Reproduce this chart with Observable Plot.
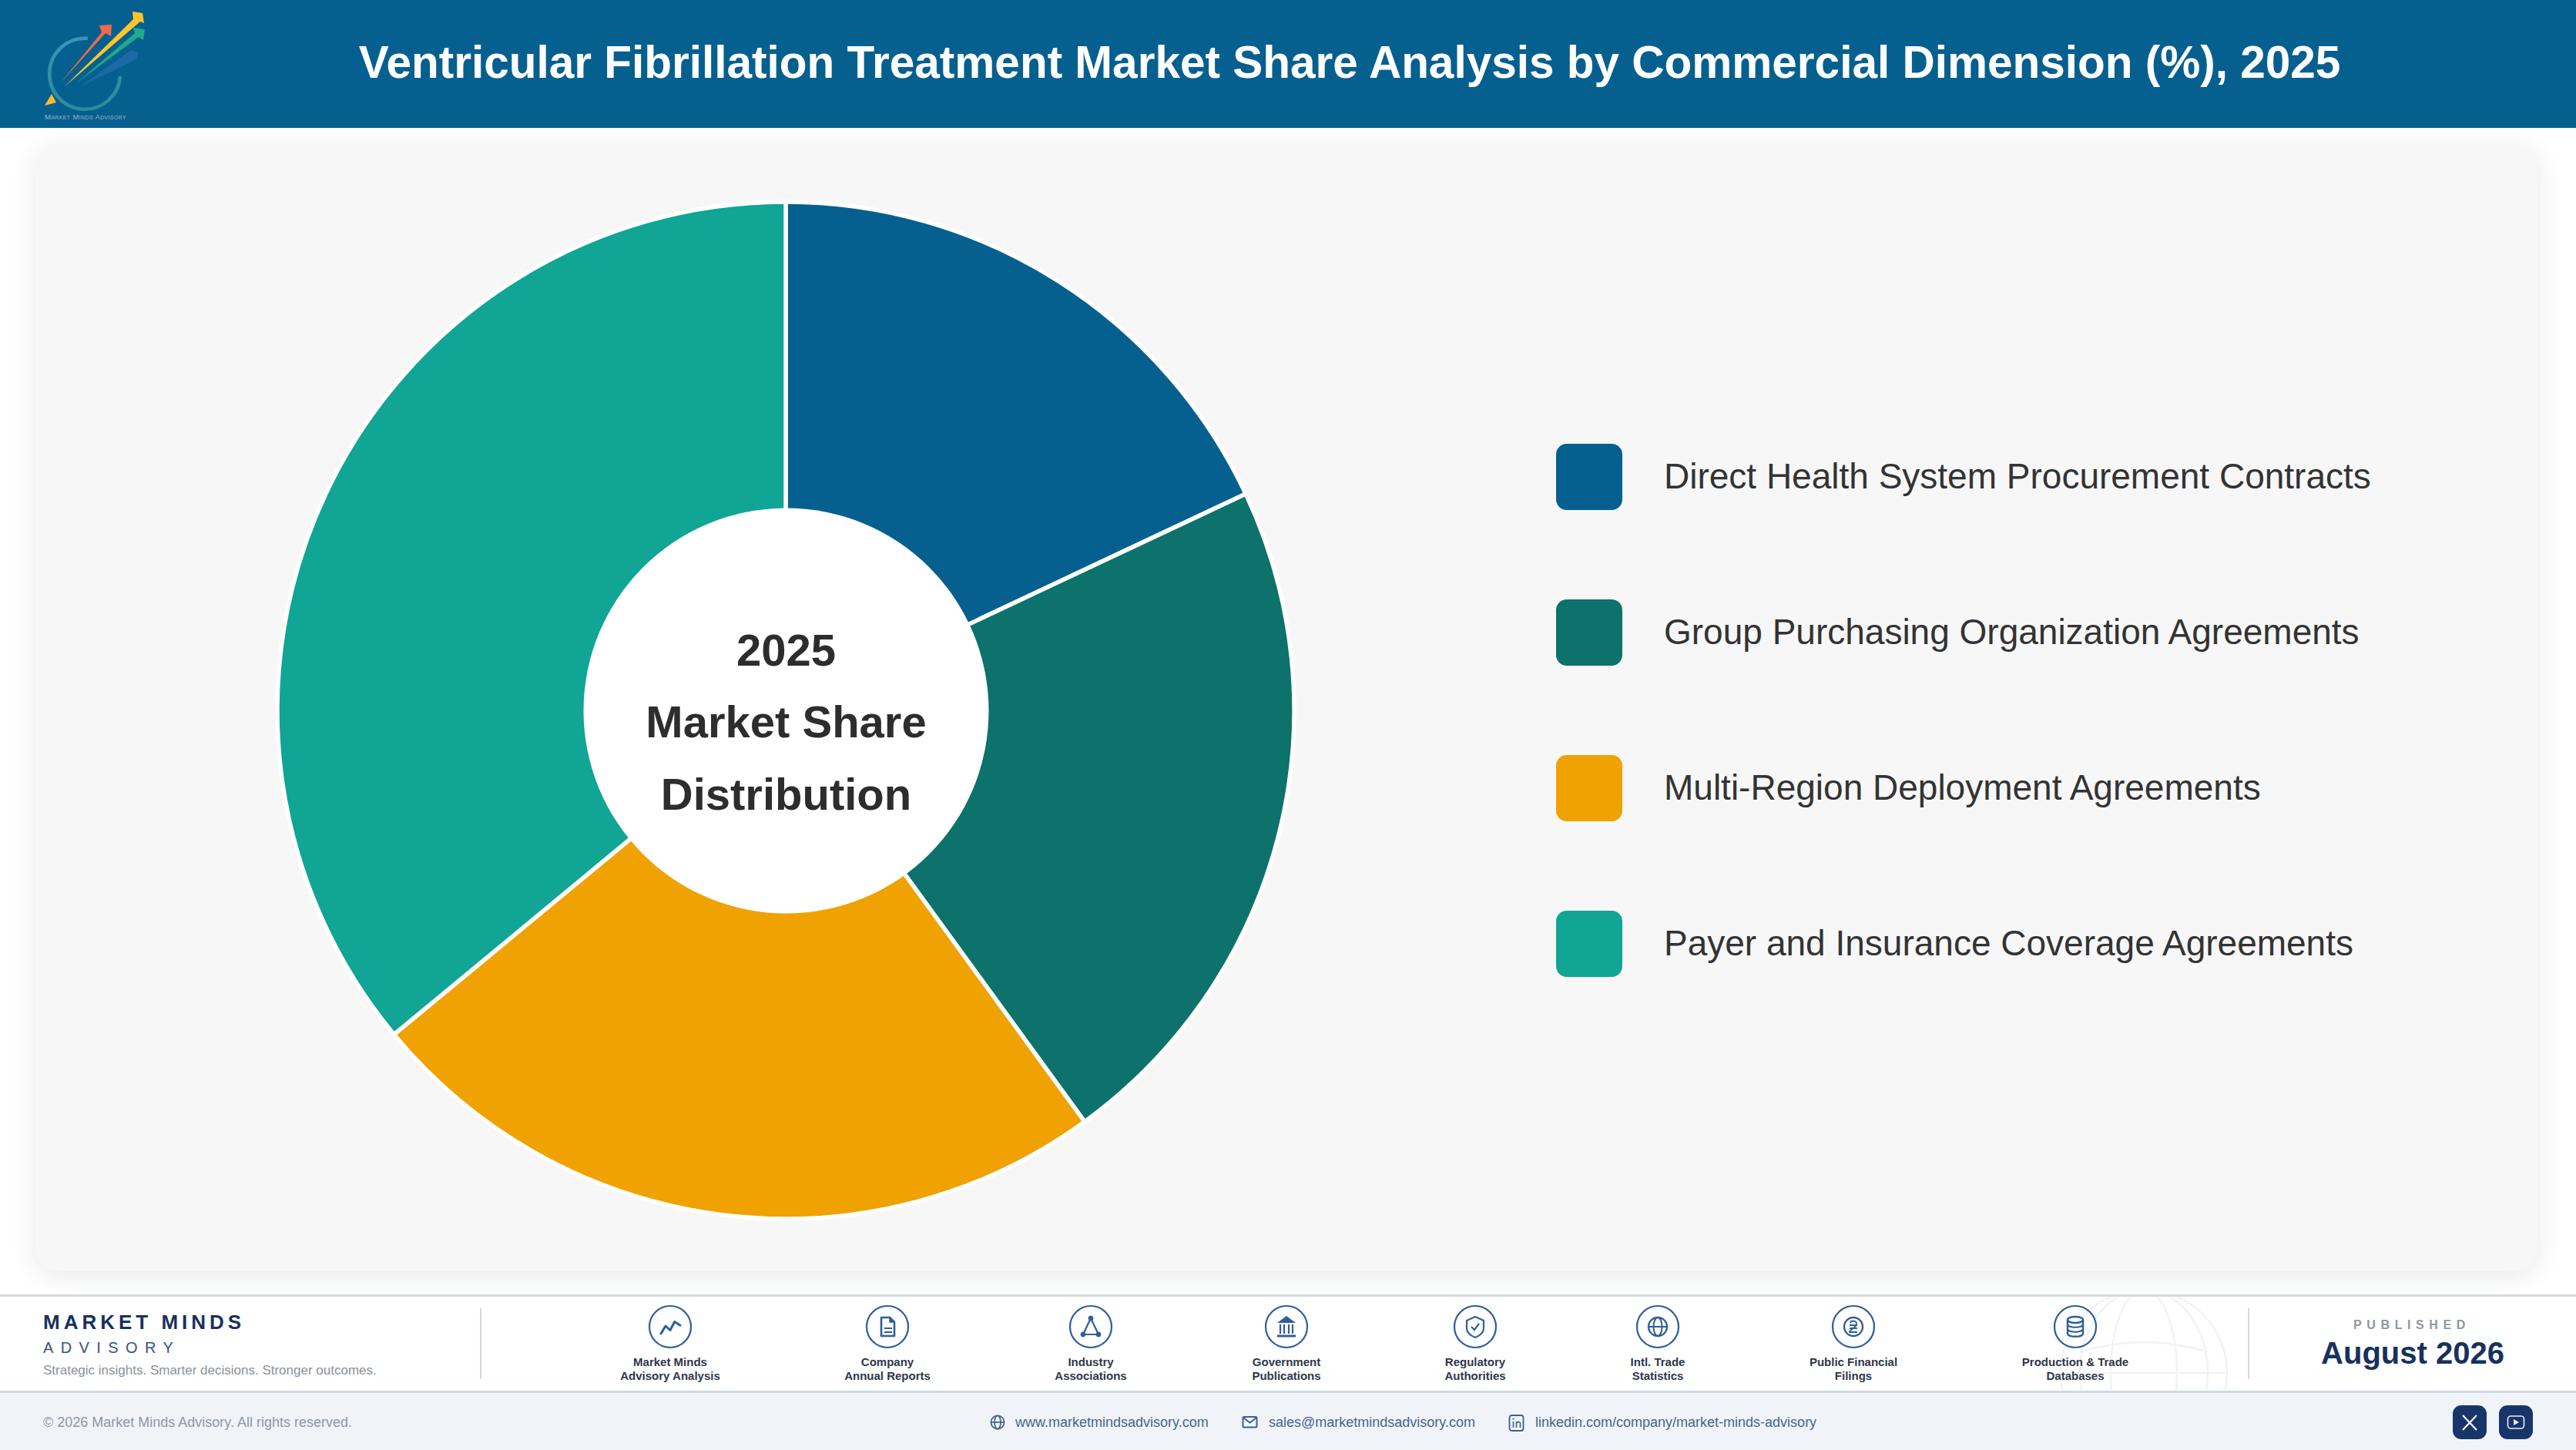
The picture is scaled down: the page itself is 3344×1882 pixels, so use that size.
<!DOCTYPE html>
<html lang="en">
<head>
<meta charset="utf-8">
<title>Ventricular Fibrillation Treatment Market Share Analysis</title>
<script src="https://cdn.jsdelivr.net/npm/d3@7"></script>
<script src="https://cdn.jsdelivr.net/npm/@observablehq/plot@0.6"></script>
<style>
  html, body { margin: 0; padding: 0; background: #fff; }
  body { width: 3344px; height: 1882px; position: relative; overflow: hidden; font-family: "Liberation Sans", Arial, sans-serif; }
  .abs { position: absolute; }
  .t { position: absolute; white-space: nowrap; line-height: 1; }
  .c { transform: translate(-50%, -50%); text-align: center; }
  .l { transform: translateY(-50%); }
</style>
</head>
<body>
<div id="page"></div>
<script>
// ---- chart data ----
const title = "Ventricular Fibrillation Treatment Market Share Analysis by Commercial Dimension (%), 2025";
const categories = [
  "Direct Health System Procurement Contracts",
  "Group Purchasing Organization Agreements",
  "Multi-Region Deployment Agreements",
  "Payer and Insurance Coverage Agreements"
];
const shares = [18, 22, 24, 36];
const colors = ["#06608f", "#0c726b", "#f0a202", "#10a594"];
const centerLabel = "2025\nMarket Share\nDistribution";

// ---- footer content ----
const sourceLabels = [
  ["Market Minds", "Advisory Analysis"],
  ["Company", "Annual Reports"],
  ["Industry", "Associations"],
  ["Government", "Publications"],
  ["Regulatory", "Authorities"],
  ["Intl. Trade", "Statistics"],
  ["Public Financial", "Filings"],
  ["Production & Trade", "Databases"]
];
const sourceCenters = [870, 1152, 1416, 1670, 1915, 2152, 2406, 2694];
const sourceIcons = [
  `<polyline points="-12,9 -6,-1 0,4.5 5.7,-6.5 13,-1.8" stroke-width="3" stroke-linejoin="round" stroke-linecap="round"/>`,
  `<path d="M-8,-12 H3 L9,-6 V12 H-8 Z" stroke-width="2.6" stroke-linejoin="round"/><path d="M3,-12 V-6 H9" fill="#2f5f98" stroke-width="1.5"/><path d="M-4,2 H6 M-4,7 H6" stroke-width="2"/>`,
  `<path d="M0,-11 L-10,10 H10 Z" stroke-width="2.2"/><circle cx="0" cy="-11" r="3" fill="#2f5f98"/><circle cx="-10" cy="10" r="3" fill="#2f5f98"/><circle cx="10" cy="10" r="3" fill="#2f5f98"/>`,
  `<path d="M0,-14 L12,-5 H-12 Z" fill="#2f5f98" stroke="none"/><path d="M-8,-3 V9 M-3,-3 V9 M3,-3 V9 M8,-3 V9" stroke-width="2.2"/><path d="M-12,12 H12" stroke-width="3"/>`,
  `<path d="M0,-13 L11,-8 V2 C11,8 5,12 0,14 C-5,12 -11,8 -11,2 V-8 Z" stroke-width="2.2" stroke-linejoin="round"/><path d="M-5,0 L-1,4 L5,-4" stroke-width="2.2"/>`,
  `<circle r="12" stroke-width="2.4"/><ellipse rx="5.5" ry="12" stroke-width="2"/><path d="M-12,0 H12" stroke-width="2"/>`,
  `<circle r="12" stroke-width="2.4"/><path d="M-4,-5 C-3,-9 5,-8 4,-3 C3,1 -5,4 -5,7 H5 M-5,-2 H5 M-5,2 H5" stroke-width="1.9"/>`,
  `<ellipse cy="-9" rx="10" ry="4" stroke-width="2.4"/><path d="M-10,-9 V9 C-10,14 10,14 10,9 V-9" stroke-width="2.4"/><path d="M-10,-3 C-10,2 10,2 10,-3 M-10,3 C-10,8 10,8 10,3" stroke-width="2.2"/>`
];

// ---- page furniture ----
const page = document.getElementById("page");
function box(css) {
  const d = document.createElement("div");
  d.className = "abs";
  d.style.cssText = css;
  page.append(d);
  return d;
}
function text(str, x, y, anchor, css) {
  const d = document.createElement("div");
  d.className = "t " + anchor;
  d.textContent = str;
  d.style.cssText = `left:${x}px;top:${y}px;${css}`;
  page.append(d);
  return d;
}
function svgAt(x, y, w, h, inner, attrs = "") {
  const d = document.createElement("div");
  d.className = "abs";
  d.style.cssText = `left:${x}px;top:${y}px;width:${w}px;height:${h}px;`;
  d.innerHTML = `<svg width="${w}" height="${h}" viewBox="0 0 ${w} ${h}" fill="none" ${attrs} style="display:block;overflow:hidden">${inner}</svg>`;
  page.append(d);
  return d;
}

// header
box("left:0;top:0;width:3344px;height:166px;background:#06608f;");
text(title, 1752, 81, "c", "font-size:58.5px;font-weight:700;color:#fff;");
svgAt(50, 0, 160, 166, `
  <defs><linearGradient id="lg" x1="0" y1="0" x2="0" y2="1"><stop offset="0" stop-color="#3d93ba"/><stop offset="1" stop-color="#2a8c96"/></linearGradient></defs>
  <path d="M64,50 A46,46 0 1 0 106,99" stroke="url(#lg)" stroke-width="4.5"/>
  <polygon points="53,113 120,65 130,68 127,77" fill="#1b69a6"/>
  <polygon points="50,107 125,43 123,36 138,38 136,52 130,48" fill="#1fa98d"/>
  <polygon points="29,107 82,42 79,33 95,32 94,47 87,43" fill="#ee6a4a"/>
  <polygon points="33,113 123,25 122,15 135,17 137,30 132,28" fill="#fec52d"/>
  <polygon points="8,137 17,122 23,133" fill="#fdb92e"/>
  <text x="8" y="155" font-size="9.6" font-family="Liberation Sans" fill="#93b4cb" style="font-variant:small-caps" letter-spacing=".35">Market Minds Advisory</text>
`);

// card
box("left:46px;top:187px;width:3248px;height:1463px;border-radius:28px;background:#f7f7f8;box-shadow:0 6px 34px rgba(30,40,60,.10);");

// legend (built from the same arrays)
const rows = [619, 821, 1023, 1225];
categories.forEach((c, i) => {
  box(`left:2020px;top:${rows[i] - 43}px;width:86px;height:86px;border-radius:14px;background:${colors[i]};`);
  text(c, 2160, rows[i] - 1, "l", "font-size:46px;color:#333;");
});

// footer
box("left:0;top:1680px;width:3344px;height:128px;background:#fff;border-top:3px solid #d5dade;border-bottom:3px solid #d0d9e2;box-sizing:border-box;");
svgAt(2660, 1683, 260, 122, `
  <g stroke="#f1f3f5" stroke-width="2.6">
    <circle cx="123" cy="99" r="108"/>
    <ellipse cx="123" cy="99" rx="83" ry="108"/>
    <ellipse cx="123" cy="99" rx="43" ry="108"/>
    <path d="M15,99 H231 M40,72 Q123,46 206,72"/>
  </g>`);
box("left:0;top:1808px;width:3344px;height:74px;background:#f0f4f9;");
box("left:623px;top:1698px;width:2px;height:92px;background:#d4d7db;");
box("left:2918px;top:1698px;width:2px;height:92px;background:#d4d7db;");

text("MARKET MINDS", 56, 1716, "l", "font-size:26px;font-weight:700;letter-spacing:5px;color:#17315f;");
text("ADVISORY", 56, 1749, "l", "font-size:20px;letter-spacing:9.4px;color:#33547f;");
text("Strategic insights. Smarter decisions. Stronger outcomes.", 56, 1778, "l", "font-size:17px;color:#8b919b;");

sourceLabels.forEach(([a, b], i) => {
  const cx = sourceCenters[i];
  svgAt(cx - 30, 1692, 60, 60, `<g transform="translate(30,30)" stroke="#2f5f98"><circle r="27" stroke-width="2.2"/>${sourceIcons[i]}</g>`);
  text(a, cx, 1767, "c", "font-size:15px;font-weight:700;color:#2f374a;");
  text(b, cx, 1785, "c", "font-size:15px;font-weight:700;color:#2f374a;");
});

text("PUBLISHED", 3131, 1720, "c", "font-size:16px;font-weight:700;letter-spacing:6.6px;color:#9097a3;");
text("August 2026", 3132, 1756, "c", "font-size:40px;font-weight:700;color:#17315f;");

text("© 2026 Market Minds Advisory. All rights reserved.", 56, 1846, "l", "font-size:18px;color:#8f97a5;");
text("www.marketmindsadvisory.com", 1318, 1846, "l", "font-size:18px;color:#46648d;");
text("sales@marketmindsadvisory.com", 1647, 1846, "l", "font-size:18px;color:#46648d;");
text("linkedin.com/company/market-minds-advisory", 1993, 1846, "l", "font-size:18px;color:#46648d;");
svgAt(1284, 1835, 22, 22, `<g transform="translate(11,11)" stroke="#3f608d" stroke-width="1.7"><circle r="8.6"/><ellipse rx="4" ry="8.6"/><path d="M-8.6,0 H8.6"/></g>`);
svgAt(1612, 1835, 22, 22, `<rect x="1.5" y="4" width="18" height="13.5" rx="1.5" stroke="#3f608d" stroke-width="2"/><path d="M2,5 L10.5,11.5 L19,5" stroke="#3f608d" stroke-width="2"/>`);
svgAt(1958, 1835, 22, 24, `<rect x="1.5" y="2" width="18" height="20" rx="3" stroke="#3f608d" stroke-width="1.8"/><path d="M6.5,10 V18 M10.5,18 V10 M10.5,13 C11,10 15.5,9.5 15.5,13 V18" stroke="#3f608d" stroke-width="1.6"/><circle cx="6.5" cy="6.8" r="1" fill="#3f608d"/>`);
box("left:3184px;top:1824px;width:44px;height:44px;border-radius:11px;background:#17356a;");
box("left:3244px;top:1824px;width:44px;height:44px;border-radius:11px;background:#17356a;");
svgAt(3184, 1824, 44, 44, `<path d="M13,13 L31,32 M31,13 L13,32" stroke="#fff" stroke-width="2.2"/>`);
svgAt(3244, 1824, 44, 44, `<rect x="11.5" y="14" width="21" height="16" rx="4" stroke="#eaf0f8" stroke-width="1.6"/><path d="M19,18 L26,22 L19,26 Z" fill="#eaf0f8"/>`);

// ---- donut drawn with Plot ----
const table = categories.map((name, i) => ({name, share: shares[i]}));
const outerRadius = 660;
const holeRadius = 263;
const chart = Plot.plot({
  width: 1400,
  height: 1400,
  margin: 0,
  style: {background: "transparent", overflow: "visible"},
  x: {domain: [0, d3.sum(shares)], range: [0, 2 * Math.PI], axis: null},
  y: {axis: null},
  color: {domain: categories, range: colors},
  marks: [
    Plot.barX(table, {
      x: "share",
      fill: "name",
      render(index, scales, values, {width, height}) {
        const arc = d3.arc().innerRadius(0).outerRadius(outerRadius);
        const g = d3.create("svg:g").attr("transform", `translate(${width / 2},${height / 2})`);
        for (const i of index) {
          g.append("path")
            .attr("d", arc({startAngle: values.x1[i], endAngle: values.x2[i]}))
            .attr("fill", values.fill[i])
            .attr("stroke", "#fff")
            .attr("stroke-width", 5.5)
            .attr("stroke-linejoin", "round");
        }
        return g.node();
      }
    }),
    Plot.dot([0], {frameAnchor: "middle", r: holeRadius, fill: "#fff", stroke: "none"}),
    Plot.text([centerLabel], {
      frameAnchor: "middle",
      dy: 5,
      fontSize: 58,
      fontWeight: 700,
      fontFamily: "Liberation Sans",
      lineHeight: 1.615,
      fill: "#2d2d2d"
    })
  ]
});
chart.style.position = "absolute";
chart.style.left = (1019.5 - 700) + "px";
chart.style.top = (921.5 - 700) + "px";
page.append(chart);
</script>
</body>
</html>
